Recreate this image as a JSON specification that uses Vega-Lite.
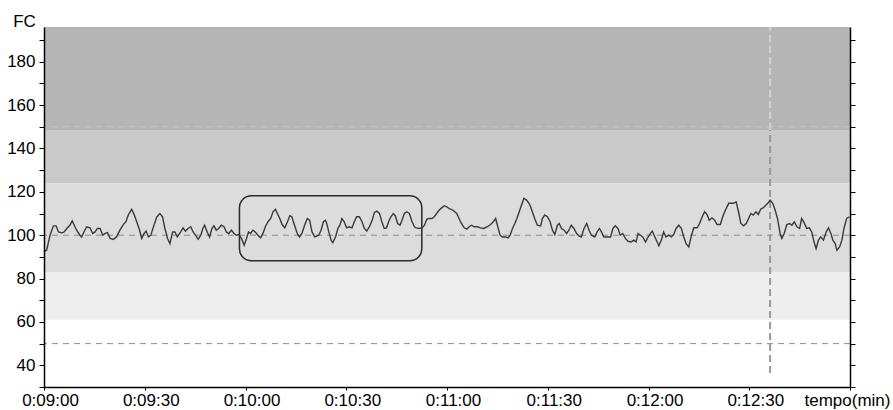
{
  "$schema": "https://vega.github.io/schema/vega-lite/v6.json",
  "width": 806,
  "height": 360,
  "autosize": {"type": "none"},
  "padding": {"left": 44, "top": 27, "right": 43, "bottom": 23},
  "background": "white",
  "config": {"view": {"stroke": null}, "font": "Liberation Sans"},
  "resolve": {"axis": {"x": "independent", "y": "independent"}},
  "layer": [
    {
      "data": {"values": [
        {"lo": 148.5, "hi": 196, "zone": "A"},
        {"lo": 124, "hi": 148.5, "zone": "B"},
        {"lo": 83, "hi": 124, "zone": "C"},
        {"lo": 61, "hi": 83, "zone": "D"}
      ]},
      "mark": {"type": "rect"},
      "encoding": {
        "x": {"datum": 540, "type": "quantitative", "scale": {"domain": [540, 780], "nice": false, "zero": false}, "axis": null},
        "x2": {"datum": 780},
        "y": {"field": "lo", "type": "quantitative", "scale": {"domain": [30, 196], "nice": false, "zero": false},
          "axis": {"orient": "left", "values": [30, 40, 50, 60, 70, 80, 90, 100, 110, 120, 130, 140, 150, 160, 170, 180, 190],
            "labelExpr": "datum.value % 20 == 0 && datum.value >= 40 ? datum.label : ''",
            "title": "FC", "titleAngle": 0, "titleAlign": "center", "titleBaseline": "alphabetic", "titleX": -20, "titleY": -1,
            "titleFontSize": 17, "titleFontWeight": "normal", "titleColor": "#000",
            "labelFontSize": 17, "labelColor": "#000", "labelPadding": 4, "tickSize": 5, "tickColor": "#000",
            "domainColor": "#000", "domainWidth": 1.5, "grid": false, "zindex": 1}},
        "y2": {"field": "hi"},
        "color": {"field": "zone", "type": "nominal", "scale": {"domain": ["A", "B", "C", "D"], "range": ["#b5b5b5", "#c9c9c9", "#dcdcdc", "#eeeeee"]}, "legend": null}
      }
    },
    {
      "data": {"values": [{"v": 100}, {"v": 50}]},
      "mark": {"type": "rule", "color": "#8c8c8c", "strokeDash": [6, 5], "strokeWidth": 1},
      "encoding": {"y": {"field": "v", "type": "quantitative", "axis": null}}
    },
    {
      "data": {"values": [{"v": 150}]},
      "mark": {"type": "rule", "color": "#c6c6c6", "strokeDash": [6, 5], "strokeWidth": 1},
      "encoding": {"y": {"field": "v", "type": "quantitative", "axis": null}}
    },
    {
      "data": {"values": [{"t": 756.2, "lo": 36.5, "hi": 148.5}]},
      "mark": {"type": "rule", "color": "#9a9a9a", "strokeDash": [7, 4], "strokeWidth": 2},
      "encoding": {"x": {"field": "t", "type": "quantitative", "axis": null}, "y": {"field": "lo", "type": "quantitative", "axis": null}, "y2": {"field": "hi"}}
    },
    {
      "data": {"values": [{"t": 756.2, "lo": 148.5, "hi": 196}]},
      "mark": {"type": "rule", "color": "#d2d2d2", "strokeDash": [7, 4], "strokeWidth": 2},
      "encoding": {"x": {"field": "t", "type": "quantitative", "axis": null}, "y": {"field": "lo", "type": "quantitative", "axis": null}, "y2": {"field": "hi"}}
    },
    {
      "data": {"values": [{"t0": 598.2, "t1": 652.5, "lo": 88.2, "hi": 118.2}]},
      "mark": {"type": "rect", "fillOpacity": 0, "stroke": "#2a2a2a", "strokeWidth": 1.5, "cornerRadius": 12},
      "encoding": {"x": {"field": "t0", "type": "quantitative", "axis": null}, "x2": {"field": "t1"}, "y": {"field": "lo", "type": "quantitative", "axis": null}, "y2": {"field": "hi"}}
    },
    {
      "data": {"values": [
        {"t":540.0,"fc":92.3},{"t":540.8,"fc":93.1},{"t":541.8,"fc":100},{"t":542.8,"fc":104.3},{"t":543.6,"fc":104.3},{"t":544.3,"fc":101.5},{"t":545.3,"fc":101.1},{"t":546.0,"fc":101.5},{"t":546.8,"fc":103.1},{"t":547.7,"fc":104.6},{"t":548.4,"fc":106.6},{"t":549.0,"fc":104.6},{"t":549.7,"fc":102.3},{"t":550.7,"fc":100},{"t":551.2,"fc":99.2},{"t":551.9,"fc":101.5},{"t":552.7,"fc":103.9},{"t":553.7,"fc":103.4},{"t":554.5,"fc":100.8},{"t":555.2,"fc":101.5},{"t":555.9,"fc":103.1},{"t":556.7,"fc":103.1},{"t":557.5,"fc":100},{"t":558.2,"fc":100.8},{"t":558.9,"fc":101.2},{"t":559.7,"fc":98.5},{"t":560.6,"fc":98},{"t":561.6,"fc":99.2},{"t":562.6,"fc":102.3},{"t":563.6,"fc":104.9},{"t":564.4,"fc":106.2},{"t":565.1,"fc":109.3},{"t":566.1,"fc":112},{"t":566.9,"fc":109.3},{"t":567.6,"fc":106.2},{"t":568.3,"fc":103.1},{"t":569.1,"fc":98.5},{"t":569.8,"fc":100.8},{"t":570.4,"fc":101.9},{"t":571.1,"fc":99.2},{"t":571.8,"fc":100},{"t":572.6,"fc":103.9},{"t":573.6,"fc":108.5},{"t":574.5,"fc":110},{"t":575.3,"fc":108.5},{"t":576.0,"fc":103.1},{"t":576.8,"fc":98.5},{"t":577.5,"fc":96.1},{"t":578.3,"fc":101.5},{"t":579.0,"fc":101.5},{"t":579.7,"fc":99.2},
        {"t":580.7,"fc":101.5},{"t":581.4,"fc":103.4},{"t":582.1,"fc":101.9},{"t":582.9,"fc":103.1},{"t":583.7,"fc":103.9},{"t":584.4,"fc":101.5},{"t":585.1,"fc":100},{"t":585.9,"fc":98.1},{"t":586.7,"fc":100},{"t":587.3,"fc":103.1},{"t":587.8,"fc":104.6},{"t":588.6,"fc":101.5},{"t":589.3,"fc":99.2},{"t":590.0,"fc":103.1},{"t":590.6,"fc":104.3},{"t":591.3,"fc":102.3},{"t":592.0,"fc":103.1},{"t":592.8,"fc":104.6},{"t":593.6,"fc":103.9},{"t":594.3,"fc":101.5},{"t":595.0,"fc":100.8},{"t":595.8,"fc":102.3},{"t":596.6,"fc":100.8},{"t":597.3,"fc":100},{"t":598.0,"fc":100.3},{"t":598.8,"fc":98.5},{"t":599.6,"fc":95.4},{"t":600.3,"fc":98.5},{"t":600.9,"fc":101.5},{"t":601.5,"fc":100.8},{"t":602.2,"fc":102.3},{"t":602.9,"fc":101.5},{"t":603.7,"fc":100},{"t":604.5,"fc":98.8},{"t":605.2,"fc":100.8},{"t":605.9,"fc":103.9},{"t":606.7,"fc":106.2},{"t":607.5,"fc":107.7},{"t":608.2,"fc":110.8},{"t":608.9,"fc":112},{"t":609.5,"fc":110},{"t":610.2,"fc":107.7},{"t":610.9,"fc":104.9},{"t":611.7,"fc":103.4},{"t":612.5,"fc":106.2},{"t":613.2,"fc":109},{"t":613.8,"fc":108.5},{"t":614.6,"fc":104.6},{"t":615.4,"fc":100.8},{"t":616.1,"fc":99.2},{"t":616.8,"fc":100.8},{"t":617.6,"fc":104.6},{"t":618.4,"fc":107.7},{"t":619.1,"fc":106.9},{"t":619.8,"fc":101.5},{"t":620.6,"fc":99.2},
        {"t":621.8,"fc":100},{"t":622.5,"fc":102.3},{"t":623.2,"fc":106.2},{"t":623.8,"fc":106.9},{"t":624.2,"fc":105.4},{"t":624.8,"fc":101.5},{"t":625.5,"fc":97.7},{"t":626.0,"fc":96.6},{"t":626.8,"fc":99.2},{"t":627.5,"fc":103.1},{"t":628.1,"fc":104.6},{"t":628.7,"fc":107.7},{"t":629.4,"fc":106.2},{"t":630.1,"fc":103.4},{"t":630.9,"fc":103.9},{"t":631.7,"fc":103.4},{"t":632.4,"fc":106.2},{"t":633.1,"fc":108.5},{"t":633.9,"fc":108.5},{"t":634.7,"fc":106.2},{"t":635.4,"fc":103.1},{"t":636.1,"fc":101.9},{"t":636.9,"fc":103.9},{"t":637.7,"fc":106.9},{"t":638.4,"fc":110.5},{"t":639.1,"fc":111.1},{"t":639.9,"fc":110},{"t":640.6,"fc":106.2},{"t":641.3,"fc":103.1},{"t":642.0,"fc":103.4},{"t":642.6,"fc":106.2},{"t":643.3,"fc":108.5},{"t":644.0,"fc":110},{"t":644.6,"fc":109},{"t":645.3,"fc":105.4},{"t":646.0,"fc":104.6},{"t":646.6,"fc":106.9},{"t":647.3,"fc":110},{"t":648.0,"fc":110.8},{"t":648.8,"fc":110},{"t":649.6,"fc":106.2},{"t":650.3,"fc":103.9},{"t":650.8,"fc":103.4},{"t":651.8,"fc":103.1},{"t":652.6,"fc":103.4},{"t":653.3,"fc":104.6},{"t":654.0,"fc":107.4},{"t":654.7,"fc":107.7},{"t":655.5,"fc":107.7},{"t":656.2,"fc":108.5},{"t":656.9,"fc":110},{"t":657.7,"fc":111.6},{"t":658.5,"fc":112.7},{"t":659.2,"fc":113.6},{"t":659.9,"fc":113.1},{"t":660.7,"fc":112.3},{"t":661.7,"fc":111.6},
        {"t":662.9,"fc":110},{"t":663.6,"fc":107.7},{"t":664.3,"fc":105.4},{"t":665.1,"fc":103.4},{"t":665.9,"fc":102.8},{"t":666.6,"fc":103.9},{"t":667.3,"fc":104.6},{"t":668.1,"fc":103.9},{"t":669.0,"fc":103.9},{"t":670.0,"fc":103.4},{"t":671.0,"fc":103.1},{"t":672.0,"fc":103.9},{"t":673.0,"fc":104.9},{"t":673.8,"fc":106.2},{"t":674.5,"fc":107.7},{"t":675.0,"fc":104.6},{"t":675.8,"fc":100},{"t":676.5,"fc":99.2},{"t":677.5,"fc":99.2},{"t":678.2,"fc":98.8},{"t":678.8,"fc":100},{"t":679.5,"fc":103.1},{"t":680.2,"fc":105.4},{"t":680.8,"fc":107.7},{"t":681.5,"fc":110.8},{"t":682.2,"fc":113.9},{"t":682.9,"fc":117},{"t":683.7,"fc":116.2},{"t":684.4,"fc":114.7},{"t":684.9,"fc":113.1},{"t":685.4,"fc":110.8},{"t":686.1,"fc":107.7},{"t":686.9,"fc":104.6},{"t":687.9,"fc":104.3},{"t":688.4,"fc":107.7},{"t":689.1,"fc":109.3},{"t":689.9,"fc":108.5},{"t":690.7,"fc":106.2},{"t":691.4,"fc":102.3},{"t":692.1,"fc":100.3},{"t":692.9,"fc":104.6},{"t":693.4,"fc":105.4},{"t":694.1,"fc":103.1},{"t":694.9,"fc":102.3},{"t":695.6,"fc":100.8},{"t":696.3,"fc":102.3},{"t":697.0,"fc":104.6},{"t":697.8,"fc":103.1},{"t":698.6,"fc":100.8},{"t":699.3,"fc":99.7},{"t":700.0,"fc":99.2},{"t":700.8,"fc":103.1},{"t":701.6,"fc":105.4},{"t":702.3,"fc":102.3},{"t":703.0,"fc":100},
        {"t":704.0,"fc":99.2},{"t":704.7,"fc":101.5},{"t":705.4,"fc":103.1},{"t":706.0,"fc":101.5},{"t":706.7,"fc":99.2},{"t":707.7,"fc":99.2},{"t":708.7,"fc":99.2},{"t":709.4,"fc":103.1},{"t":710.1,"fc":104.3},{"t":710.9,"fc":103.1},{"t":711.6,"fc":100},{"t":712.3,"fc":100.8},{"t":713.1,"fc":98.5},{"t":713.9,"fc":97.2},{"t":714.9,"fc":96.9},{"t":715.6,"fc":97.7},{"t":716.3,"fc":96.9},{"t":716.9,"fc":100.8},{"t":717.6,"fc":100},{"t":718.3,"fc":99.2},{"t":719.1,"fc":96.9},{"t":719.9,"fc":99.2},{"t":720.6,"fc":100.8},{"t":721.1,"fc":101.9},{"t":721.9,"fc":99.2},{"t":722.6,"fc":96.9},{"t":723.1,"fc":95.1},{"t":723.8,"fc":97.7},{"t":724.5,"fc":101.5},{"t":725.2,"fc":99.2},{"t":726.0,"fc":100},{"t":726.8,"fc":99.2},{"t":727.5,"fc":100.3},{"t":728.2,"fc":103.1},{"t":729.0,"fc":104.6},{"t":729.8,"fc":103.1},{"t":730.5,"fc":99.2},{"t":731.2,"fc":96.1},{"t":732.0,"fc":94.6},{"t":732.8,"fc":100},{"t":733.5,"fc":103.4},{"t":734.5,"fc":103.4},{"t":735.2,"fc":105.4},{"t":736.0,"fc":108.5},{"t":736.7,"fc":110.8},{"t":737.4,"fc":109.6},{"t":738.1,"fc":106.9},{"t":738.9,"fc":108},{"t":739.7,"fc":106.9},{"t":740.4,"fc":104.9},{"t":741.4,"fc":104.9},{"t":742.1,"fc":108.5},{"t":742.9,"fc":111.6},{"t":743.9,"fc":114.7},
        {"t":745.3,"fc":114.7},{"t":746.1,"fc":115.4},{"t":746.8,"fc":110.8},{"t":747.5,"fc":105.4},{"t":748.3,"fc":104.3},{"t":749.1,"fc":105.4},{"t":749.8,"fc":107.7},{"t":750.5,"fc":110},{"t":751.2,"fc":109.3},{"t":752.0,"fc":110.8},{"t":752.7,"fc":109.6},{"t":753.4,"fc":112},{"t":754.2,"fc":112.7},{"t":755.0,"fc":113.9},{"t":755.7,"fc":115.1},{"t":756.2,"fc":116.2},{"t":757.0,"fc":114.7},{"t":757.7,"fc":111.6},{"t":758.4,"fc":107.7},{"t":759.2,"fc":100.8},{"t":759.7,"fc":98.5},{"t":760.4,"fc":100.8},{"t":761.2,"fc":104.9},{"t":762.0,"fc":105.4},{"t":762.7,"fc":104.6},{"t":763.4,"fc":106.2},{"t":764.2,"fc":103.9},{"t":765.0,"fc":103.1},{"t":765.6,"fc":107.7},{"t":766.3,"fc":105.9},{"t":767.1,"fc":103.1},{"t":767.9,"fc":103.4},{"t":768.6,"fc":101.5},{"t":769.3,"fc":96.9},{"t":769.9,"fc":93.8},{"t":770.6,"fc":97.7},{"t":771.3,"fc":99.2},{"t":772.1,"fc":97.7},{"t":772.9,"fc":101.5},{"t":773.6,"fc":103.4},{"t":774.3,"fc":100.8},{"t":774.9,"fc":97.7},{"t":775.6,"fc":96.1},{"t":776.1,"fc":93.1},{"t":776.9,"fc":94.6},{"t":777.6,"fc":97.7},{"t":778.2,"fc":103.1},{"t":779.0,"fc":107.7},{"t":779.8,"fc":108.5}
      ]},
      "mark": {"type": "line", "color": "#3a3a3a", "strokeWidth": 1.4},
      "encoding": {
        "x": {"field": "t", "type": "quantitative",
          "axis": {"orient": "bottom", "values": [540, 570, 600, 630, 660, 690, 720, 750, 780],
            "labelExpr": "datum.value == 780 ? 'tempo(min)' : '0:' + (floor(datum.value/60) < 10 ? '0' : '') + floor(datum.value/60) + ':' + (datum.value % 60 < 10 ? '0' : '') + (datum.value % 60)",
            "title": null, "labelFontSize": 17, "labelColor": "#000", "labelFlush": false, "labelOverlap": false,
            "tickSize": 3, "tickColor": "#000", "domainColor": "#000", "domainWidth": 1.5, "grid": false, "zindex": 1, "labelPadding": 2,
            "labelOffset": {"condition": {"test": "datum.value == 780", "value": -3}, "value": 6}}},
        "y": {"field": "fc", "type": "quantitative",
          "axis": {"orient": "right", "values": [30, 40, 50, 60, 70, 80, 90, 100, 110, 120, 130, 140, 150, 160, 170, 180, 190],
            "labels": false, "title": null, "tickSize": 5, "tickColor": "#000", "domainColor": "#000", "domainWidth": 1.5, "grid": false, "zindex": 1}}
      }
    }
  ]
}
